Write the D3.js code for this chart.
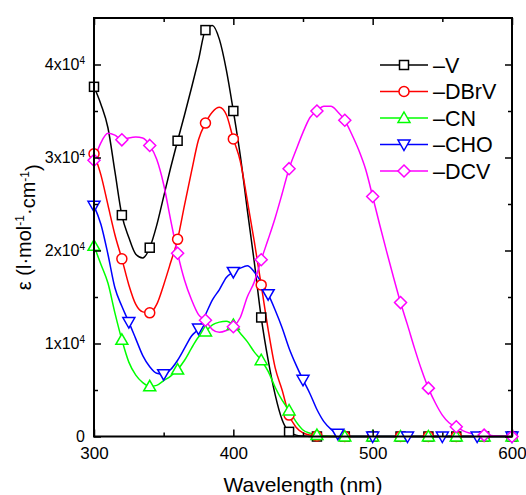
<!DOCTYPE html>
<html>
<head>
<meta charset="utf-8">
<script src="https://cdn.jsdelivr.net/npm/d3@7"></script>
<style>
  body { margin: 0; background: #fff; }
  svg { display: block; font-family: "Liberation Sans", Arial, Helvetica, sans-serif; }
</style>
</head>
<body>
<svg id="chart" width="526" height="495"></svg>
<script>
// wavelength grid (nm)
let wl = [300,305,310,315,320,325,330,335,340,345,350,355,360,365,370,375,380,385,390,395,
  400,405,410,415,420,425,430,435,440,445,450,455,460,465,470,475,480,485,490,495,
  500,505,510,515,520,525,530,535,540,545,550,555,560,565,570,575,580,585,590,595,600];

// epsilon values, in units of 1000 l/mol/cm
let epsV = [37.6,35.7,33.2,28.5,23.8,21.4,19.6,19.2,20.3,22.7,25.8,28.9,31.8,34.6,37.5,40.5,43.7,44.2,42.7,39.4,
  35.0,30.2,24.4,18.8,12.8,8.2,4.5,1.8,0.5,0.15,0.05,0,0,0,0,0,0,0,0,0,
  0,0,0,0,0,0,0,0,0,0,0,0,0,0,0,0,0,0,0,0,0];
let epsDBrV = [30.4,28.1,24.9,21.7,19.1,16.3,14.2,13.4,13.3,14.2,16.3,18.7,21.2,24.9,28.5,31.9,33.7,34.9,35.4,34.6,
  32.0,29.6,25.4,21.0,16.3,11.5,7.4,5.0,2.3,1.0,0.4,0.15,0.05,0,0,0,0,0,0,0,
  0,0,0,0,0,0,0,0,0,0,0,0,0,0,0,0,0,0,0,0,0];
let epsCN = [20.5,18.5,16.5,13.3,10.4,8.0,6.6,5.8,5.4,5.5,6.0,6.5,7.2,8.2,9.5,10.7,11.3,12.0,12.3,12.4,
  12.0,11.1,10.2,9.1,8.2,7.0,5.3,3.9,2.8,1.6,0.7,0.35,0.15,0.05,0,0,0,0,0,0,
  0,0,0,0,0,0,0,0,0,0,0,0,0,0,0,0,0,0,0,0,0];
let epsCHO = [24.8,22.8,19.6,16.0,14.0,12.3,10.5,8.7,7.5,6.8,6.7,7.2,8.2,9.5,10.8,11.6,13.1,14.7,15.8,17.1,
  17.7,18.1,18.35,17.7,16.6,15.3,13.6,11.7,9.5,7.7,6.1,4.6,2.9,1.6,0.8,0.3,0.1,0,0,0,
  0,0,0,0,0,0,0,0,0,0,0,0,0,0,0,0,0,0,0,0,0];
let epsDCV = [29.7,31.6,32.6,32.4,31.9,32.1,32.2,32.1,31.3,29.8,27.1,23.3,19.7,16.8,14.7,13.1,12.5,11.5,11.2,11.4,
  11.8,12.8,15.0,16.6,19.0,21.2,23.5,26.1,28.8,30.8,32.7,34.3,35.0,35.5,35.5,34.9,34.0,32.5,30.8,28.7,
  25.8,22.8,19.9,17.1,14.4,12.0,9.5,7.2,5.2,3.6,2.3,1.45,1.05,0.6,0.35,0.25,0.15,0.1,0.05,0.02,0];

// where the symbols sit
let marks20 = [300,320,340,360,380,400,420,440,460,480,500,520,540,560,580,600];
let marks25 = [300,325,350,375,400,425,450,475,500,525,550,575,600];

let names = ['\u2013V', '\u2013DBrV', '\u2013CN', '\u2013CHO', '\u2013DCV'];
let colors = ['#000000', '#ff0000', '#00ff00', '#0000ff', '#ff00ff'];
let symbols = ['square', 'circle', 'up', 'down', 'diamond'];
let yMajor = [0, 10000, 20000, 30000, 40000];
let yMinor = [5000, 15000, 25000, 35000];
let xMajor = [300, 400, 500, 600];
let xMinor = [350, 450, 550];

let seriesVals = [epsV, epsDBrV, epsCN, epsCHO, epsDCV];
let seriesMarks = [marks20, marks20, marks20, marks25, marks20];

let series = names.map((n, i) => ({
  name: n,
  color: colors[i],
  symbol: symbols[i],
  points: wl.map((w, j) => ({ x: w, y: seriesVals[i][j] * 1000 })),
  marks: seriesMarks[i]
}));

let svg = d3.select('#chart');
let margin = { top: 18, right: 14, bottom: 58.5, left: 94 };
let width = 526, height = 495;

let x = d3.scaleLinear().domain([300, 600]).range([margin.left, width - margin.right]);
let y = d3.scaleLinear().domain([0, 45000]).range([height - margin.bottom, margin.top]);

let line = d3.line()
  .x(d => x(d.x))
  .y(d => y(d.y))
  .curve(d3.curveMonotoneX);

// curves
let plot = svg.append('g');
series.forEach(s => {
  plot.append('path')
    .datum(s.points)
    .attr('fill', 'none')
    .attr('stroke', s.color)
    .attr('stroke-width', 1.5)
    .attr('d', line);
});

function drawSymbol(g, type, cx, cy, color) {
  let el;
  if (type === 'square') {
    el = g.append('rect').attr('x', cx - 4.5).attr('y', cy - 4.5).attr('width', 9).attr('height', 9);
  } else if (type === 'circle') {
    el = g.append('circle').attr('cx', cx).attr('cy', cy).attr('r', 5);
  } else if (type === 'up') {
    el = g.append('path').attr('d', `M${cx},${cy - 6}L${cx + 6},${cy + 4.5}L${cx - 6},${cy + 4.5}Z`);
  } else if (type === 'down') {
    el = g.append('path').attr('d', `M${cx},${cy + 6}L${cx + 6},${cy - 4.5}L${cx - 6},${cy - 4.5}Z`);
  } else {
    el = g.append('path').attr('d', `M${cx},${cy - 6}L${cx + 6},${cy}L${cx},${cy + 6}L${cx - 6},${cy}Z`);
  }
  el.attr('fill', '#fff').attr('stroke', color).attr('stroke-width', 1.5);
}

// symbols
series.forEach(s => {
  let g = plot.append('g');
  s.points.filter(p => s.marks.includes(p.x)).forEach(p => {
    drawSymbol(g, s.symbol, x(p.x), y(p.y), s.color);
  });
});

// frame
svg.append('rect')
  .attr('x', margin.left).attr('y', margin.top)
  .attr('width', width - margin.right - margin.left)
  .attr('height', height - margin.bottom - margin.top)
  .attr('fill', 'none').attr('stroke', '#000').attr('stroke-width', 2);

// axes, ticks inward
function cleanAxis(g) {
  g.select('.domain').remove();
  g.selectAll('.tick line').attr('stroke', '#000').attr('stroke-width', 1.5);
}

let yAxis = svg.append('g')
  .attr('transform', `translate(${margin.left},0)`)
  .call(d3.axisLeft(y).tickValues(yMajor).tickSize(-7).tickPadding(9).tickFormat(''))
  .call(cleanAxis);
yAxis.selectAll('.tick text')
  .attr('font-size', 16).attr('fill', '#000')
  .each(function(d) {
    let t = d3.select(this);
    if (d === 0) { t.text('0'); return; }
    t.append('tspan').text((d / 10000) + 'x10');
    t.append('tspan').attr('font-size', 10).attr('dy', '-0.6em').text('4');
  });

svg.append('g')
  .attr('transform', `translate(${margin.left},0)`)
  .call(d3.axisLeft(y).tickValues(yMinor).tickSize(-4).tickFormat(''))
  .call(cleanAxis);

svg.append('g')
  .attr('transform', `translate(${width - margin.right},0)`)
  .call(d3.axisRight(y).tickValues(yMajor).tickSize(-7).tickFormat(''))
  .call(cleanAxis);
svg.append('g')
  .attr('transform', `translate(${width - margin.right},0)`)
  .call(d3.axisRight(y).tickValues(yMinor).tickSize(-4).tickFormat(''))
  .call(cleanAxis);

svg.append('g')
  .attr('transform', `translate(0,${height - margin.bottom})`)
  .call(d3.axisBottom(x).tickValues(xMajor).tickSize(-7).tickPadding(10).tickFormat(d3.format('d')))
  .call(cleanAxis)
  .selectAll('.tick text').attr('font-size', 17).attr('fill', '#000');
svg.append('g')
  .attr('transform', `translate(0,${height - margin.bottom})`)
  .call(d3.axisBottom(x).tickValues(xMinor).tickSize(-4).tickFormat(''))
  .call(cleanAxis);

svg.append('g')
  .attr('transform', `translate(0,${margin.top})`)
  .call(d3.axisTop(x).tickValues(xMajor).tickSize(-7).tickFormat(''))
  .call(cleanAxis);
svg.append('g')
  .attr('transform', `translate(0,${margin.top})`)
  .call(d3.axisTop(x).tickValues(xMinor).tickSize(-4).tickFormat(''))
  .call(cleanAxis);

// axis titles
svg.append('text')
  .attr('x', (margin.left + width - margin.right) / 2)
  .attr('y', 492)
  .attr('text-anchor', 'middle')
  .attr('font-size', 21)
  .text('Wavelength (nm)');

let yt = svg.append('text')
  .attr('transform', `translate(31,${(margin.top + height - margin.bottom) / 2}) rotate(-90)`)
  .attr('text-anchor', 'middle')
  .attr('font-size', 20);
yt.append('tspan').text('\u03b5 (l\u00b7mol');
yt.append('tspan').attr('font-size', 12).attr('dy', '-0.55em').text('-1');
yt.append('tspan').attr('dy', '0.55em').text('\u00b7cm');
yt.append('tspan').attr('font-size', 12).attr('dy', '-0.55em').text('-1');
yt.append('tspan').attr('dy', '0.55em').text(')');

// legend
let legend = svg.append('g');
series.forEach((s, i) => {
  let ly = 65 + i * 26.5;
  legend.append('line')
    .attr('x1', 380).attr('x2', 428).attr('y1', ly).attr('y2', ly)
    .attr('stroke', s.color).attr('stroke-width', 1.5);
  drawSymbol(legend, s.symbol, 404, ly, s.color);
  legend.append('text')
    .attr('x', 433).attr('y', ly + 7.5)
    .attr('font-size', 21.5)
    .text(s.name);
});
</script>
</body>
</html>
